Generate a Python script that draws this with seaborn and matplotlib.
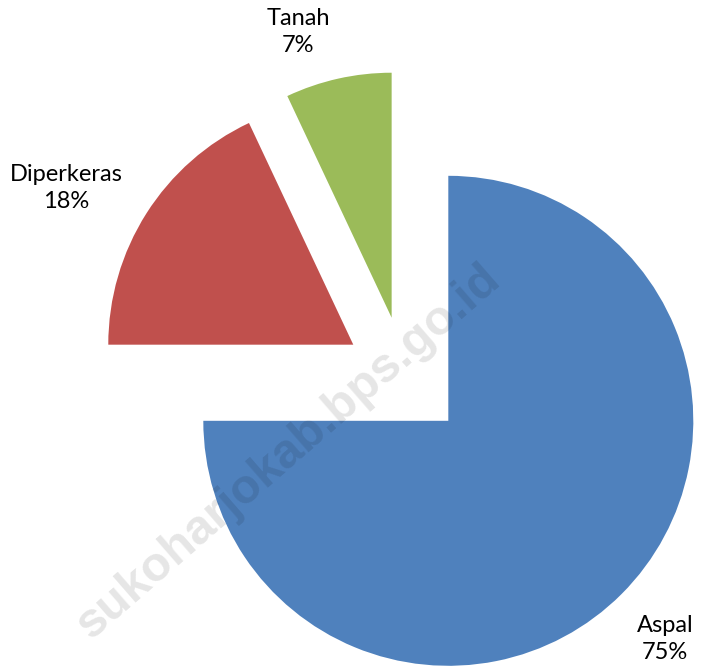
import matplotlib
matplotlib.use("Agg")
import matplotlib.pyplot as plt
import seaborn as sns

categories = ["Aspal", "Diperkeras", "Tanah"]
values = [75, 18, 7]
colors = ["#4F81BD", "#C0504D", "#9BBB59"]
watermark = "sukoharjokab.bps.go.id"

sns.set_theme(style="white")
plt.rcParams['font.family'] = ['Lato', 'DejaVu Sans']

W, H = 701, 670
fig = plt.figure(figsize=(W / 100, H / 100), dpi=100)
ax = fig.add_axes([0, 0, 1, 1])

R = 245.0
cx, cy = 405.0, 377.5
wedges, _ = ax.pie(values, colors=colors, startangle=90, counterclock=False,
                   explode=[0.25, 0.25, 0.25], radius=1,
                   wedgeprops=dict(linewidth=0))
ax.set_xlim(-cx / R, (W - cx) / R)
ax.set_ylim(-(H - cy) / R, cy / R)
ax.set_aspect('equal')
ax.axis('off')

label_pos = {"Aspal": (665, 639), "Diperkeras": (66, 188), "Tanah": (298, 32)}
for name, val in zip(categories, values):
    px, py = label_pos[name]
    fig.text(px / W, 1 - py / H, f"{name}\n{val}%", ha='center', va='center',
             fontsize=17, color='black', linespacing=1.3)

fig.text(288 / W, 1 - 452 / H, watermark, rotation=41, ha='center', va='center',
         fontsize=35, fontweight='bold', family=['Liberation Sans', 'DejaVu Sans'],
         color='black', alpha=0.1, zorder=10, rotation_mode='anchor')

fig.savefig("out.png", dpi=100, facecolor='white')
